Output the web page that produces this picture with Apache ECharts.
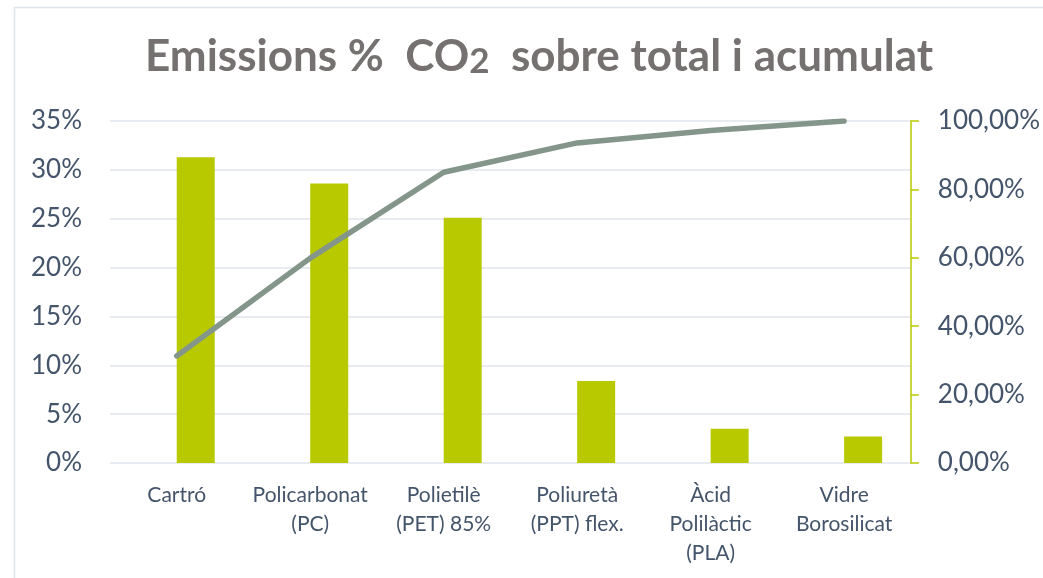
<!DOCTYPE html>
<html>
<head>
<meta charset="utf-8">
<script src="https://cdn.jsdelivr.net/npm/echarts@6/dist/echarts.min.js"></script>
<style>
html,body{margin:0;padding:0;background:#fff;}
#c{width:1043px;height:578px;}
</style>
</head>
<body>
<div id="c"></div>
<script>
var categories = ['Cartró', 'Policarbonat\n(PC)', 'Polietilè\n(PET) 85%', 'Poliuretà\n(PPT) flex.', 'Àcid\nPolilàctic\n(PLA)', 'Vidre\nBorosilicat'];
var emissions = [31.3, 28.6, 25.1, 8.4, 3.5, 2.7];
var cumulative = [31.3, 59.9, 85.0, 93.6, 97.2, 100.0];
var leftTicks = {min: 0, max: 35, interval: 5};
var rightTicks = {min: 0, max: 100, interval: 20};

var chart = echarts.init(document.getElementById('c'), null, {renderer: 'canvas'});
var labelColor = '#44546a';
var font = 'Lato, "Open Sans", sans-serif';
chart.setOption({
  animation: false,
  backgroundColor: '#ffffff',
  graphic: [
    {type: 'line', shape: {x1: 14, y1: 7.5, x2: 1043, y2: 7.5}, style: {stroke: '#dfe4ea', lineWidth: 1.5}, silent: true},
    {type: 'line', shape: {x1: 14.5, y1: 7, x2: 14.5, y2: 578}, style: {stroke: '#dfe4ea', lineWidth: 1.5}, silent: true}
  ],
  title: {
    text: '{a|Emissions %  CO}{b|2}{a|  sobre total i acumulat}',
    left: 140,
    top: 30,
    textStyle: {
      rich: {
        a: {fontFamily: font, fontWeight: 'bold', fontSize: 44, color: '#767171'},
        b: {fontFamily: font, fontWeight: 'bold', fontSize: 35, color: '#767171', verticalAlign: 'bottom', padding: [8, 0, 0, 0]}
      }
    }
  },
  grid: {left: 110, right: 132, top: 121, bottom: 115, containLabel: false},
  xAxis: {
    type: 'category',
    data: categories,
    axisLine: {show: false},
    axisTick: {show: false},
    axisLabel: {color: labelColor, fontFamily: font, fontSize: 21, lineHeight: 29, margin: 18, interval: 0}
  },
  yAxis: [
    {
      type: 'value', min: leftTicks.min, max: leftTicks.max, interval: leftTicks.interval,
      axisLine: {show: false}, axisTick: {show: false},
      axisLabel: {color: labelColor, fontFamily: font, fontSize: 26, margin: 28, formatter: '{value}%'},
      splitLine: {show: true, lineStyle: {color: '#e1e5eb', width: 1.5}}
    },
    {
      type: 'value', min: rightTicks.min, max: rightTicks.max, interval: rightTicks.interval,
      position: 'right',
      axisLine: {show: true, lineStyle: {color: '#b9c900', width: 1.5}},
      axisTick: {show: true, length: 8, lineStyle: {color: '#b9c900', width: 1.5}},
      axisLabel: {color: labelColor, fontFamily: font, fontSize: 26, margin: 27,
        formatter: function (v) { return v.toFixed(2).replace('.', ',') + '%'; }},
      splitLine: {show: false}
    }
  ],
  series: [
    {name: 'placeholder', type: 'bar', yAxisIndex: 0, data: [], barWidth: 38, barGap: '0%'},
    {name: 'Emissions', type: 'bar', yAxisIndex: 0, data: emissions, barWidth: 38, barGap: '0%',
      itemStyle: {color: '#b9c900'}},
    {name: 'Acumulat', type: 'line', yAxisIndex: 1, data: cumulative, symbol: 'none',
      lineStyle: {color: '#84968a', width: 5.5, cap: 'round', join: 'round'}, z: 5}
  ]
});
</script>
</body>
</html>
